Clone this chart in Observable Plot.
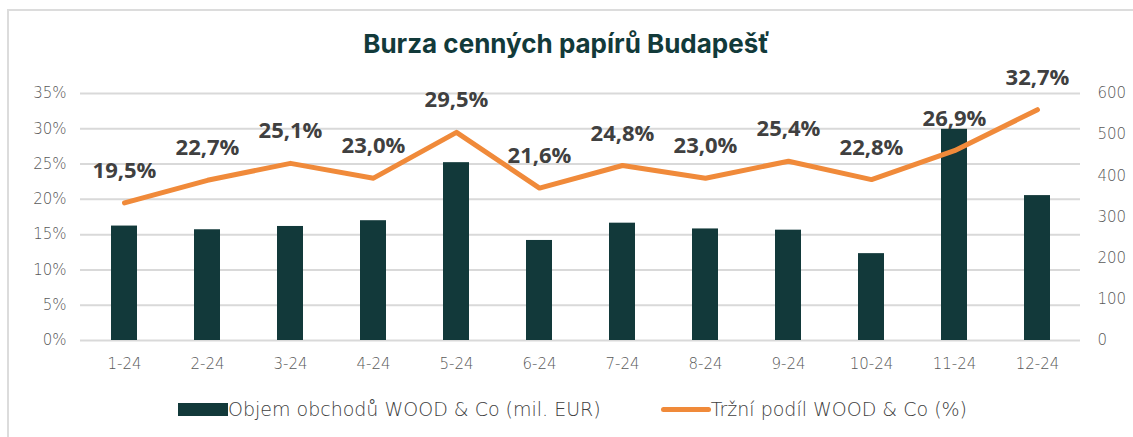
<!DOCTYPE html>
<html>
<head>
<meta charset="utf-8">
<script src="https://cdn.jsdelivr.net/npm/d3@7"></script>
<script src="https://cdn.jsdelivr.net/npm/@observablehq/plot@0.6"></script>
<style>
  html, body { margin: 0; padding: 0; background: #fff; width: 1133px; height: 437px; overflow: hidden; }
  #frame { position: absolute; left: 7px; top: 9px; width: 1130px; height: 440px; border-left: 2px solid #dcdcdc; border-top: 2px solid #dcdcdc; }
  #title { position: absolute; left: 0; top: 28px; width: 1133px; text-align: center; font-family: Inter, sans-serif; font-weight: 700; font-size: 26px; color: #123a3a; }
  #chart { position: absolute; left: 0; top: 60px; }
  #chart svg { overflow: visible; }
  #legend { position: absolute; left: 6px; top: 398px; width: 1133px; display: flex; justify-content: center; align-items: center; font-family: "DejaVu Sans", sans-serif; font-weight: 300; font-size: 19px; color: #404040; }
  .item { display: flex; align-items: center; margin: 0 30px; }
  .sw-bar { width: 50px; height: 13px; background: #12393a; }
  .sw-line { width: 50px; height: 5px; border-radius: 3px; background: #f08a3a; }
</style>
</head>
<body>
<div id="frame"></div>
<div id="title">Burza cenných papírů Budapešť</div>
<div id="chart"></div>
<div id="legend">
  <div class="item"><div class="sw-bar"></div><span>Objem obchodů WOOD &amp; Co (mil. EUR)</span></div>
  <div class="item"><div class="sw-line"></div><span>Tržní podíl WOOD &amp; Co (%)</span></div>
</div>
<script>
const months = ["1-24","2-24","3-24","4-24","5-24","6-24","7-24","8-24","9-24","10-24","11-24","12-24"];
const volume = [278, 269, 277, 291, 432, 243, 285, 271, 268, 211, 513, 352];   // mil. EUR (right axis)
const share = [19.5, 22.7, 25.1, 23.0, 29.5, 21.6, 24.8, 23.0, 25.4, 22.8, 26.9, 32.7]; // % (left axis)
const leftTicks = [0, 5, 10, 15, 20, 25, 30, 35];
const rightTicks = [0, 100, 200, 300, 400, 500, 600];

const maxPct = 35, maxVol = 600;
const toPct = v => v / maxVol * maxPct;
const rows = months.map((m, i) => ({month: m, vol: volume[i], volPct: toPct(volume[i]), share: share[i]}));
const fmt = d => d.toFixed(1).replace(".", ",") + "%";

const chart = Plot.plot({
  width: 1133,
  height: 320,
  marginTop: 33,
  marginBottom: 40,
  marginLeft: 80,
  marginRight: 53,
  style: {fontFamily: "DejaVu Sans, sans-serif", fontSize: "15px", color: "#595959", background: "transparent"},
  x: {domain: months, paddingInner: 0.69, paddingOuter: 0.345, label: null},
  y: {domain: [0, maxPct], label: null},
  marks: [
    Plot.gridY(leftTicks, {stroke: "#d9d9d9", strokeOpacity: 1, strokeWidth: 2}),
    Plot.axisX({tickSize: 0, tickPadding: 18, label: null, fill: "#595959", fontWeight: 300}),
    Plot.axisY({ticks: leftTicks, tickFormat: d => d + "%", tickSize: 0, tickPadding: 14, label: null, fill: "#595959", fontWeight: 300}),
    Plot.axisY({anchor: "right", ticks: rightTicks.map(toPct), tickFormat: d => String(Math.round(d * maxVol / maxPct)), tickSize: 0, tickPadding: 17, textAnchor: "start", label: null, fill: "#595959", fontWeight: 300}),
    Plot.barY(rows, {x: "month", y: "volPct", fill: "#12393a"}),
    Plot.line(rows, {x: "month", y: "share", stroke: "#f08a3a", strokeWidth: 5, strokeLinejoin: "round", strokeLinecap: "round"}),
    Plot.text(rows, {x: "month", y: "share", text: d => fmt(d.share), dy: -32, fill: "#404040", fontFamily: "Open Sans, sans-serif", fontWeight: 700, fontSize: 22})
  ]
});
document.getElementById("chart").appendChild(chart);
</script>
</body>
</html>
